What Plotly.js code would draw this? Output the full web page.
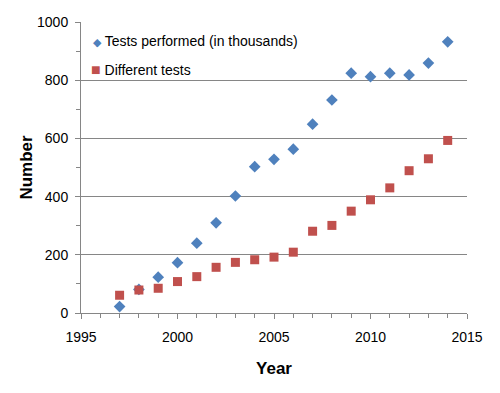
<!DOCTYPE html>
<html>
<head>
<meta charset="utf-8">
<script src="https://cdn.plot.ly/plotly-3.0.1.min.js"></script>
<style>html,body{margin:0;padding:0;background:#fff;}#chart{width:500px;height:393px;}</style>
</head>
<body>
<div id="chart"></div>
<script>
const years = [1997,1998,1999,2000,2001,2002,2003,2004,2005,2006,2007,2008,2009,2010,2011,2012,2013,2014];
const testsPerformed = [22,81,123,173,240,310,402,503,528,563,649,732,824,812,824,818,859,932];
const differentTests = [61,79,85,108,125,157,174,183,192,209,281,301,350,389,430,489,530,593];
const seriesNames = ["Tests performed (in thousands)", "Different tests"];
const colors = ["#4F81BD", "#C0504D"];

const font = "Liberation Sans, Arial, sans-serif";
const traces = [
  {x: years, y: testsPerformed, name: seriesNames[0], type: "scatter", mode: "markers",
   marker: {symbol: "diamond", size: 9, color: colors[0]}},
  {x: years, y: differentTests, name: seriesNames[1], type: "scatter", mode: "markers",
   marker: {symbol: "square", size: 9, color: colors[1]}}
];
const layout = {
  width: 500, height: 393,
  margin: {l: 81, r: 33, t: 22, b: 80},
  paper_bgcolor: "#fff", plot_bgcolor: "#fff",
  font: {family: font, size: 14, color: "#000"},
  showlegend: false,
  annotations: [
    {xref: "paper", yref: "paper", x: 0.027, y: 0.935, xanchor: "left", yanchor: "middle",
     showarrow: false, font: {size: 14, color: "#000"},
     text: '<span style="color:' + colors[0] + ';font-size:11px">◆</span> ' + seriesNames[0]},
    {xref: "paper", yref: "paper", x: 0.022, y: 0.838, xanchor: "left", yanchor: "middle",
     showarrow: false, font: {size: 14, color: "#000"},
     text: '<span style="color:' + colors[1] + ';font-size:16px">■</span> ' + seriesNames[1]}
  ],
  xaxis: {range: [1995, 2015], tickvals: [1995,2000,2005,2010,2015], showgrid: false,
          zeroline: false, showline: true, linecolor: "#868686", linewidth: 1,
          ticks: "outside", ticklen: 5, tickcolor: "#868686", ticklabelstandoff: 6,
          minor: {dtick: 1, ticks: "outside", ticklen: 4, tickcolor: "#868686", showgrid: false},
          tickfont: {size: 14},
          title: {text: "<b>Year</b>", font: {size: 17}, standoff: 18}},
  yaxis: {range: [0, 1000], dtick: 200, showgrid: true, gridcolor: "#868686", gridwidth: 1,
          zeroline: false, showline: true, linecolor: "#868686", linewidth: 1,
          ticks: "outside", ticklen: 5, tickcolor: "#868686", ticklabelstandoff: 4,
          minor: {dtick: 100, ticks: "outside", ticklen: 4, tickcolor: "#868686", showgrid: false},
          tickfont: {size: 14},
          title: {text: "<b>Number</b>", font: {size: 17}, standoff: 0}}
};
Plotly.newPlot("chart", traces, layout, {displayModeBar: false, staticPlot: true});
</script>
</body>
</html>
